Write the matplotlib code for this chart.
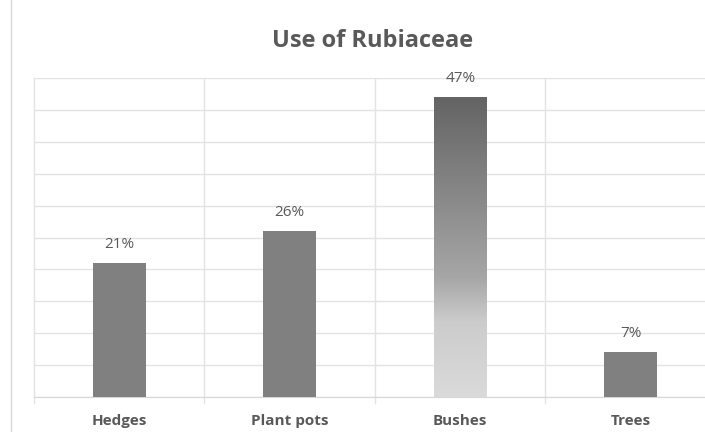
import numpy as np
import matplotlib.pyplot as plt
from matplotlib.colors import LinearSegmentedColormap
from matplotlib.lines import Line2D

plt.rcParams['font.family'] = ['Open Sans', 'DejaVu Sans']

categories = ['Hedges', 'Plant pots', 'Bushes', 'Trees']
shares = [21, 26, 47, 7]
gradient_bar = 'Bushes'

text_color = '#595959'
bar_color = '#808080'
grid_color = '#e3e3e3'

fig = plt.figure(figsize=(7.05, 4.32), dpi=100)
ax = fig.add_axes([34 / 705, 1 - 397 / 432, 682 / 705, 319 / 432])

x = np.arange(len(categories))
width = 0.31
bars = ax.bar(x, shares, width=width, color=bar_color, zorder=3)

# vertical fade for the highlighted bar
shade = LinearSegmentedColormap.from_list(
    'shade', [(0.0, '#dadada'), (0.25, '#cccccc'), (0.4, '#a6a6a6'), (1.0, '#646464')])
for rect, name in zip(bars, categories):
    if name != gradient_bar:
        continue
    rect.set_facecolor('none')
    x0, h = rect.get_x(), rect.get_height()
    grad = np.linspace(0, 1, 256).reshape(-1, 1)
    ax.imshow(grad, cmap=shade, origin='lower', aspect='auto',
              extent=(x0, x0 + width, 0, h), zorder=3)

for xi, v in zip(x, shares):
    ax.annotate(f'{v}%', (xi, v), xytext=(0, 8), textcoords='offset points',
                ha='center', va='bottom', fontsize=11, color=text_color)

ax.set_xlim(-0.5, len(categories) - 0.5)
ax.set_ylim(0, 50)
ax.set_yticks(np.arange(0, 51, 5))
ax.set_yticklabels([])
ax.tick_params(axis='y', length=0)
ax.set_xticks(x)
ax.set_xticklabels(categories, fontsize=11, fontweight='bold', color=text_color)
ax.tick_params(axis='x', length=0, pad=12)
ax.grid(axis='y', color=grid_color, linewidth=1, zorder=0)

# category separators running down past the axis line
for b in np.arange(-0.5, len(categories), 1.0):
    ax.plot([b, b], [-1, 50], color=grid_color, linewidth=1, zorder=1, clip_on=False)

for side in ['top', 'right', 'left']:
    ax.spines[side].set_visible(False)
ax.spines['bottom'].set_color('#d6d6d6')

fig.text(373 / 705, 1 - 41 / 432, 'Use of Rubiaceae', ha='center', va='center',
         fontsize=17, fontweight='bold', color=text_color)

# outer chart frame edge
fig.add_artist(Line2D([11 / 705, 11 / 705], [0, 1], color='#d9d9d9', linewidth=1))

fig.savefig('out.png', dpi=100, facecolor='white')
